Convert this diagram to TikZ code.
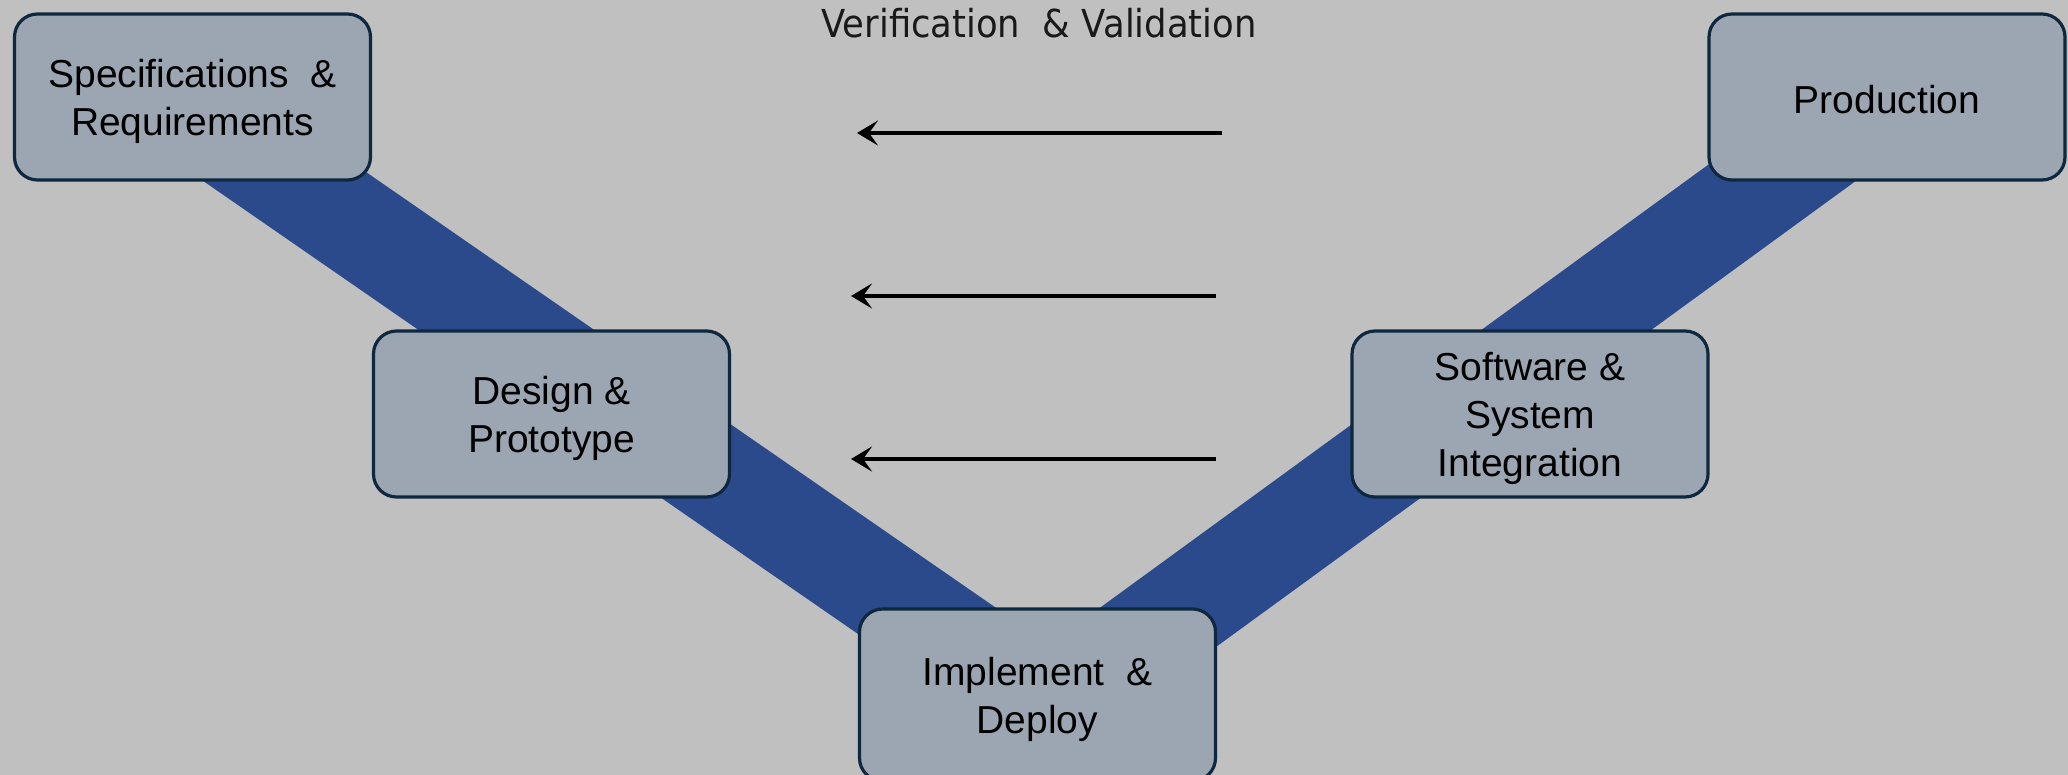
\documentclass[tikz,border=0pt]{standalone}
\usepackage{fontspec}
\setmainfont{Liberation Sans}
\newfontfamily\titlefont[FakeStretch=0.92]{DejaVu Sans}
\usetikzlibrary{arrows.meta}
\definecolor{bgc}{RGB}{192,192,192}
\definecolor{boxfill}{RGB}{156,166,178}
\definecolor{boxline}{RGB}{14,40,64}
\definecolor{bandc}{RGB}{43,74,140}
\newcommand\stagestrut{\rule{0pt}{38pt}}
\begin{document}
\begin{tikzpicture}[x=1pt,y=-1pt,
  stage/.style={draw=boxline, fill=boxfill, line width=3.2pt, rounded corners=23pt,
    minimum width=356pt, minimum height=166pt, align=center, inner sep=0pt,
    font=\fontsize{39}{48}\selectfont},
  band/.style={draw=bandc, line width=100pt, line join=miter},
  vv/.style={draw=black, line width=4pt, -{Stealth[length=21pt,width=25pt,inset=9pt]}}]
\fill[bgc] (0,0) rectangle (2068,775);
\useasboundingbox (0,0) rectangle (2068,775);
% V band
\coordinate (bl) at (174,100);
\coordinate (bv) at (1050,706);
\coordinate (br) at (1882,100);
\draw[band] (bl) -- (bv) -- (br);
% stages
\node[stage] (spec) at (192.5,97) {\stagestrut Specifications \ \&\\Requirements};
\node[stage] (design) at (551.5,414) {\stagestrut Design \&\\Prototype};
\node[stage, minimum height=172pt] (impl) at (1037.5,695) {\stagestrut Implement \ \&\\Deploy};
\node[stage] (soft) at (1530,414) {\stagestrut Software \&\\System\\Integration};
\node[stage] (prod) at (1887,97) {\rule{0pt}{33pt}Production};
% title
\node[font=\titlefont\fontsize{38.5}{44}\selectfont, anchor=base, text=black!90] (title) at (1039,38) {Verification \ \& Validation};
% arrows
\coordinate (a1s) at (1222,133); \coordinate (a1e) at (857,133);
\coordinate (a2s) at (1216,296); \coordinate (a2e) at (851,296);
\coordinate (a3s) at (1216,459); \coordinate (a3e) at (851,459);
\draw[vv] (a1s) -- (a1e);
\draw[vv] (a2s) -- (a2e);
\draw[vv] (a3s) -- (a3e);
\end{tikzpicture}
\end{document}
